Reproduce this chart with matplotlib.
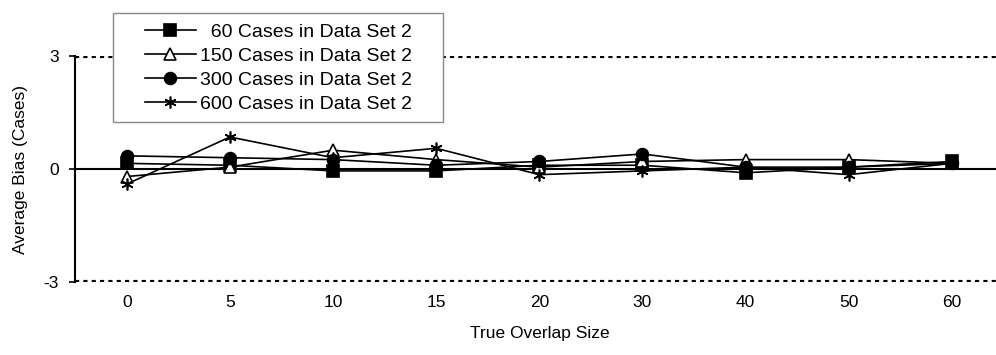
import matplotlib.pyplot as plt
from matplotlib.patches import Rectangle
import numpy as np

plt.rcParams['font.family'] = ['Liberation Sans', 'DejaVu Sans']
plt.rcParams['axes.unicode_minus'] = False

overlap_sizes = ['0', '5', '10', '15', '20', '30', '40', '50', '60']
series_labels = ['  60 Cases in Data Set 2', '150 Cases in Data Set 2',
                 '300 Cases in Data Set 2', '600 Cases in Data Set 2']
bias_60 = [0.15, 0.10, -0.05, -0.05, 0.10, 0.10, -0.10, 0.05, 0.20]
bias_150 = [-0.20, 0.05, 0.50, 0.25, 0.05, 0.20, 0.25, 0.25, 0.15]
bias_300 = [0.35, 0.30, 0.25, 0.10, 0.20, 0.40, 0.05, 0.05, 0.15]
bias_600 = [-0.40, 0.85, 0.30, 0.55, -0.15, -0.05, 0.05, -0.15, 0.15]

W, H = 996, 355
fig = plt.figure(figsize=(W / 100, H / 100), dpi=100)
ax = fig.add_axes([0.0755, 0.2056, 0.932, 0.6366])

x = np.arange(len(overlap_sizes))
styles = [
    dict(marker='s', markerfacecolor='black'),
    dict(marker='^', markerfacecolor='white'),
    dict(marker='o', markerfacecolor='black'),
    dict(marker=(6, 2, 0), markerfacecolor='black'),
]
handles = []
for vals, lab, st in zip([bias_60, bias_150, bias_300, bias_600], series_labels, styles):
    h, = ax.plot(x, vals, color='black', linewidth=1.2, markersize=8.5,
                 markeredgecolor='black', markeredgewidth=1.2, label=lab, **st)
    handles.append(h)

ax.axhline(0, color='black', linewidth=1.5, zorder=1)
for yv in (3, -3):
    ax.axhline(yv, color='black', linewidth=3, linestyle=(0, (1, 1)), zorder=0)

ax.set_xlim(-0.5, 8.5)
ax.set_ylim(-3, 3)
ax.set_yticks([-3, 0, 3])
ax.set_xticks(x)
ax.set_xticklabels(overlap_sizes)
ax.tick_params(axis='x', length=0, pad=9, labelsize=12.5)
ax.tick_params(axis='y', length=4, width=1.2, direction='out', labelsize=12.5, pad=8)
for side in ('top', 'right', 'bottom'):
    ax.spines[side].set_visible(False)
ax.spines['left'].set_linewidth(1.5)

ax.set_xlabel('True Overlap Size', fontsize=12.5, labelpad=12)
ax.set_ylabel('Average Bias (Cases)', fontsize=12.5, labelpad=11)

# legend box: wide side padding like the original
fig.patches.append(Rectangle((113 / W, 1 - 122 / H), 330 / W, 109 / H,
                             transform=fig.transFigure, facecolor='white',
                             edgecolor='#888888', linewidth=1.0, zorder=2))
fig.legend(handles, series_labels, loc='upper left',
           bbox_to_anchor=(145 / W, 1 - 23 / H), bbox_transform=fig.transFigure,
           fontsize=14, frameon=False, handlelength=2.6, handletextpad=0.25,
           labelspacing=0.33, borderpad=0, borderaxespad=0)

fig.savefig('out.png', dpi=100)
